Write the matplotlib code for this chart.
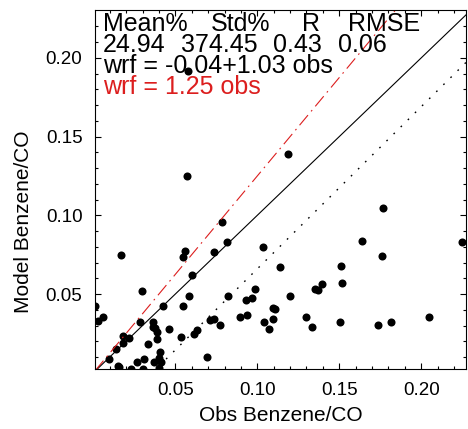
import matplotlib
matplotlib.use("Agg")
import matplotlib.pyplot as plt
import numpy as np

plt.rcParams['font.family'] = ['Liberation Sans', 'DejaVu Sans']
plt.rcParams['lines.scale_dashes'] = False

obs = [0.1189, 0.0570, 0.0787, 0.0813, 0.1037, 0.0171, 0.0559, 0.0545, 0.0738, 0.1140,
       0.0604, 0.0295, 0.0585, 0.0823, 0.0986, 0.0929, 0.0970, 0.1197, 0.0010, 0.0425,
       0.0545, 0.0061, 0.0027, 0.0285, 0.0366, 0.0366, 0.0376, 0.0390, 0.0462, 0.0712,
       0.0738, 0.0773, 0.0630, 0.0614, 0.0533, 0.0895, 0.0939, 0.1043, 0.1070, 0.1094,
       0.1108, 0.1094, 0.0179, 0.0179, 0.0220, 0.0137, 0.0096, 0.0335, 0.0387, 0.0407,
       0.0402, 0.0413, 0.0370, 0.0402, 0.0311, 0.0305, 0.0265, 0.0228, 0.0152, 0.0159,
       0.0691, 0.1768, 0.1638, 0.2246, 0.1758, 0.1508, 0.1350, 0.1368, 0.1395, 0.1515,
       0.1297, 0.1335, 0.1506, 0.1738, 0.1815, 0.2047, 0.0578]
model = [0.1389, 0.1248, 0.0959, 0.0832, 0.0797, 0.0746, 0.0773, 0.0735, 0.0767, 0.0673,
         0.0623, 0.0521, 0.0489, 0.0485, 0.0532, 0.0464, 0.0477, 0.0489, 0.0426, 0.0424,
         0.0424, 0.0356, 0.0330, 0.0324, 0.0320, 0.0292, 0.0284, 0.0260, 0.0280, 0.0335,
         0.0343, 0.0303, 0.0271, 0.0244, 0.0229, 0.0356, 0.0365, 0.0322, 0.0280, 0.0341,
         0.0407, 0.0409, 0.0235, 0.0187, 0.0218, 0.0151, 0.0085, 0.0182, 0.0212, 0.0133,
         0.0093, 0.0066, 0.0068, 0.0030, 0.0085, 0.0025, 0.0066, 0.0025, 0.0043, 0.0034,
         0.0098, 0.1048, 0.0837, 0.0832, 0.0740, 0.0678, 0.0532, 0.0525, 0.0565, 0.0568,
         0.0356, 0.0292, 0.0324, 0.0305, 0.0320, 0.0356, 0.1917]

stat_names = ['Mean%', 'Std%', 'R', 'RMSE']
stat_values = ['24.94', '374.45', '0.43', '0.06']
fit_slope = 1.03
fit_icpt = -0.037
ratio_slope = 1.25

XLIM = (0.001, 0.2273)
YLIM = (0.0022, 0.2304)
RED = '#dc1e1e'

fig = plt.figure(figsize=(4.68, 4.29), dpi=100)
ax = fig.add_axes([95 / 468, 59.7 / 429, 371 / 468, 359.3 / 429])

ax.plot(obs, model, 'o', color='black', markersize=5.8, markeredgewidth=0)

xx = np.array(XLIM)
ax.plot(xx, xx, color='black', lw=0.8)
ax.plot(xx, ratio_slope * xx, color=RED, lw=0.8, linestyle=(0, (9.5, 3.5, 1.2, 3.5)))
ax.plot(xx, fit_icpt + fit_slope * xx, color='black', lw=1.0, linestyle=(0, (1.2, 6.0)))

ax.set_xlim(*XLIM)
ax.set_ylim(*YLIM)
ax.set_xticks([0.05, 0.10, 0.15, 0.20])
ax.set_yticks([0.05, 0.10, 0.15, 0.20])
ax.set_xticks(np.arange(0.01, 0.23, 0.01), minor=True)
ax.set_yticks(np.arange(0.01, 0.23, 0.01), minor=True)
ax.xaxis.set_major_formatter(matplotlib.ticker.FormatStrFormatter('%.2f'))
ax.yaxis.set_major_formatter(matplotlib.ticker.FormatStrFormatter('%.2f'))
ax.tick_params(which='both', direction='in', top=True, right=True, width=0.8, labelsize=13.5)
ax.tick_params(which='major', length=4.5)
ax.tick_params(which='minor', length=2.2)
ax.tick_params(axis='x', pad=9)
ax.tick_params(axis='y', pad=9)
for sp in ax.spines.values():
    sp.set_linewidth(0.8)

ax.set_xlabel('Obs Benzene/CO', fontsize=15, labelpad=5)
ax.set_ylabel('Model Benzene/CO', fontsize=15)
ax.yaxis.set_label_coords(-0.168, 0.41)

# statistics block, top left
tkw = dict(transform=ax.transAxes, fontsize=18, va='baseline', ha='left')
for name, xp in zip(stat_names, [0.0216, 0.312, 0.557, 0.683]):
    ax.text(xp, 0.9424, name, **tkw)
for val, xp in zip(stat_values, [0.0216, 0.231, 0.480, 0.656]):
    ax.text(xp, 0.884, val, **tkw)
ax.text(0.0216, 0.8255, 'wrf = %.2f+%.2f obs' % (fit_icpt, fit_slope), **tkw)
ax.text(0.0216, 0.7654, 'wrf = %.2f obs' % ratio_slope, color=RED, **tkw)

plt.savefig('out.png', dpi=100)
